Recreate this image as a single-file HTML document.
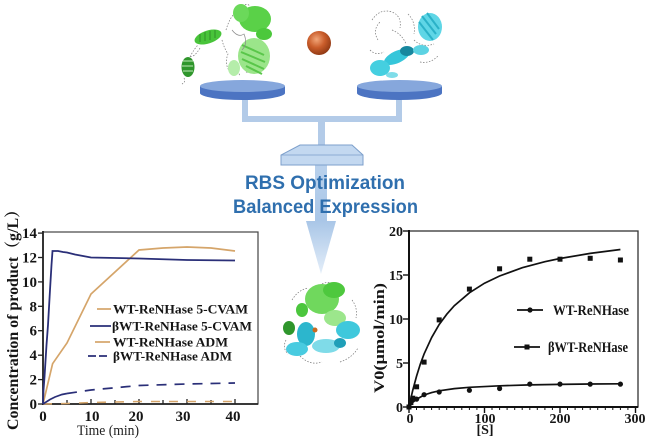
<!DOCTYPE html>
<html><head><meta charset="utf-8"><style>
html,body{margin:0;padding:0;background:#fff;}
svg{display:block}
.t{font-family:"Liberation Serif","Noto Serif CJK SC",serif;font-weight:bold;fill:#151515}
</style></head><body>
<svg width="648" height="447" viewBox="0 0 648 447" xmlns="http://www.w3.org/2000/svg">
<defs>
<linearGradient id="arr" x1="0" y1="0" x2="0" y2="1">
<stop offset="0" stop-color="#a9c6e7"/><stop offset="1" stop-color="#e4eef9"/>
</linearGradient>
<linearGradient id="shaft" x1="0" y1="0" x2="0" y2="1">
<stop offset="0" stop-color="#b9d1ec"/><stop offset="1" stop-color="#a9c6e7"/>
</linearGradient>
<radialGradient id="ball" cx="0.4" cy="0.35" r="0.7">
<stop offset="0" stop-color="#f2a679"/><stop offset="0.5" stop-color="#c95c2a"/><stop offset="1" stop-color="#8a3612"/>
</radialGradient>
</defs>
<rect width="648" height="447" fill="#fff"/>

<!-- balance -->
<rect x="242" y="97" width="6" height="23" fill="#b3cbe8"/>
<rect x="396" y="97" width="6" height="23" fill="#b3cbe8"/>
<rect x="242" y="116" width="160" height="6" fill="#b3cbe8"/>
<rect x="318" y="121" width="7" height="25" fill="#b3cbe8"/>
<rect x="315" y="164" width="12" height="58" fill="url(#shaft)"/>
<polygon points="306,221 336,221 321,274" fill="url(#arr)"/>
<polygon points="300,145 352,145 363,155 363,165 281,165 281,155" fill="#c3d8f0" stroke="#7c9fcb" stroke-width="1"/>
<line x1="281" y1="155" x2="363" y2="155" stroke="#7c9fcb" stroke-width="0.8"/>

<!-- discs -->
<ellipse cx="242.5" cy="93" rx="42.5" ry="7" fill="#4c74c2"/>
<rect x="200" y="86" width="85" height="7" fill="#4c74c2"/>
<ellipse cx="242.5" cy="86" rx="42.5" ry="6" fill="#86a7dc"/>
<ellipse cx="399.5" cy="93" rx="42.5" ry="7" fill="#4c74c2"/>
<rect x="357" y="86" width="85" height="7" fill="#4c74c2"/>
<ellipse cx="399.5" cy="86" rx="42.5" ry="6" fill="#86a7dc"/>

<!-- ball -->
<circle cx="319" cy="43" r="12" fill="url(#ball)"/>

<!-- green protein left -->
<g>
<path d="M190,57 q4,-8 8,-12 M222,40 q2,8 6,14 q-4,10 2,18 M226,30 q4,-14 12,-20 M240,8 q6,-6 10,-2 M230,62 q6,4 10,14 M246,72 q8,2 14,-4 M200,48 q-6,10 -10,8 M184,78 q2,4 -2,6" stroke="#777" stroke-width="0.7" stroke-dasharray="1.5,1.5" fill="none"/>
<ellipse cx="188" cy="67" rx="6.5" ry="10" fill="#2f962c"/>
<path d="M183,61 h10 M182,66 h11 M183,71 h10" stroke="#bfe8b8" stroke-width="1"/>
<ellipse cx="208" cy="37" rx="14" ry="6.5" transform="rotate(-18 208 37)" fill="#48c43a"/>
<path d="M200,34 v8 M205,32 v9 M210,31 v9 M215,30 v8" stroke="#2f8f28" stroke-width="1"/>
<ellipse cx="255" cy="19" rx="16" ry="13" fill="#5ad148"/>
<ellipse cx="241" cy="13" rx="8" ry="9" fill="#6bd95a"/>
<ellipse cx="264" cy="34" rx="8" ry="6" fill="#4cc83c"/>
<ellipse cx="254" cy="56" rx="16" ry="18" fill="#9be58a"/>
<path d="M242,45 l22,10 M241,52 l24,10 M242,59 l22,10 M246,66 l16,8" stroke="#5ac64a" stroke-width="2"/>
<ellipse cx="234" cy="68" rx="6" ry="8" fill="#b5edaa"/>
<path d="M232,30 q6,8 12,4 q4,10 -2,16" stroke="#888" stroke-width="0.7" fill="none"/>
</g>

<!-- cyan protein right -->
<g>
<path d="M372,20 q8,-12 20,-8 q10,4 8,16 M378,40 q-6,-10 2,-18 M392,30 q10,4 14,14 M408,14 q8,8 6,20 M414,40 q8,8 20,4 M370,50 q6,6 14,2 M420,62 q10,2 18,-6" stroke="#777" stroke-width="0.7" stroke-dasharray="1.5,1.5" fill="none"/>
<ellipse cx="430" cy="27" rx="12" ry="14" fill="#5fd6e6"/>
<path d="M422,16 l14,18 M427,13 l12,16 M419,22 l14,18" stroke="#2bb2c8" stroke-width="2"/>
<ellipse cx="397" cy="57" rx="14" ry="6" transform="rotate(-25 397 57)" fill="#35c6da"/>
<ellipse cx="407" cy="51" rx="7" ry="5" fill="#17879e"/>
<ellipse cx="421" cy="50" rx="8" ry="5" fill="#5cd3e3"/>
<ellipse cx="380" cy="68" rx="10" ry="8" fill="#45cfe0"/>
<ellipse cx="392" cy="75" rx="6" ry="3" fill="#7fdde9"/>
</g>

<!-- bottom combined protein -->
<g>
<path d="M292,300 q6,-10 16,-12 M300,356 q10,10 22,6 M340,362 q12,-4 18,-14 M352,300 q6,8 4,18 M286,340 q-4,8 2,14 M322,284 q8,-4 14,2" stroke="#777" stroke-width="0.7" stroke-dasharray="1.5,1.5" fill="none"/>
<ellipse cx="322" cy="299" rx="17" ry="15" fill="#70d85d"/>
<ellipse cx="334" cy="290" rx="11" ry="8" fill="#4ec83e"/>
<ellipse cx="335" cy="318" rx="11" ry="8" fill="#9ce68c"/>
<ellipse cx="302" cy="310" rx="6" ry="7" fill="#4bc63d"/>
<ellipse cx="289" cy="328" rx="6" ry="7" fill="#2f962c"/>
<ellipse cx="306" cy="334" rx="9" ry="12" fill="#2cb6cd"/>
<ellipse cx="348" cy="330" rx="12" ry="9" fill="#3fc8dc"/>
<ellipse cx="297" cy="349" rx="11" ry="7" fill="#48cbe0"/>
<ellipse cx="326" cy="346" rx="14" ry="7" fill="#7fdbe8"/>
<ellipse cx="340" cy="343" rx="6" ry="5" fill="#1f9fb8"/>
<circle cx="315" cy="330" r="2.5" fill="#c96a20"/>
</g>

<!-- center text -->
<text x="325" y="189" text-anchor="middle" font-family="Liberation Sans, sans-serif" font-weight="bold" font-size="19" fill="#2f6fae" textLength="160" lengthAdjust="spacingAndGlyphs">RBS Optimization</text>
<text x="325.5" y="213" text-anchor="middle" font-family="Liberation Sans, sans-serif" font-weight="bold" font-size="19" fill="#2f6fae" textLength="185" lengthAdjust="spacingAndGlyphs">Balanced Expression</text>

<!-- LEFT CHART -->
<rect x="43" y="232" width="215" height="172" fill="none" stroke="#444" stroke-width="1.2"/>
<line x1="43" y1="231" x2="43" y2="405" stroke="#222" stroke-width="1.8"/>
<line x1="42" y1="404" x2="258" y2="404" stroke="#222" stroke-width="1.8"/>
<g stroke="#222" stroke-width="1.3">
<line x1="38" y1="404" x2="43" y2="404"/><line x1="38" y1="379.6" x2="43" y2="379.6"/>
<line x1="38" y1="355.2" x2="43" y2="355.2"/><line x1="38" y1="330.7" x2="43" y2="330.7"/>
<line x1="38" y1="306.3" x2="43" y2="306.3"/><line x1="38" y1="281.9" x2="43" y2="281.9"/>
<line x1="38" y1="257.5" x2="43" y2="257.5"/><line x1="38" y1="233.1" x2="43" y2="233.1"/>
<line x1="67" y1="400" x2="67" y2="404"/><line x1="91" y1="399" x2="91" y2="404"/>
<line x1="115" y1="400" x2="115" y2="404"/><line x1="139" y1="399" x2="139" y2="404"/>
<line x1="163" y1="400" x2="163" y2="404"/><line x1="187" y1="399" x2="187" y2="404"/>
<line x1="211" y1="400" x2="211" y2="404"/><line x1="235" y1="399" x2="235" y2="404"/>
</g>
<g class="t" font-size="15" text-anchor="end">
<text x="37" y="409">0</text><text x="37" y="384.6">2</text><text x="37" y="360.2">4</text>
<text x="37" y="335.7">6</text><text x="37" y="311.3">8</text><text x="37" y="286.9">10</text>
<text x="37" y="262.5">12</text><text x="37" y="238.1">14</text>
</g>
<g class="t" font-size="15" text-anchor="middle">
<text x="43" y="421">0</text><text x="92" y="421">10</text><text x="136" y="421">20</text>
<text x="183" y="421">30</text><text x="233" y="421">40</text>
</g>
<text x="108" y="435" text-anchor="middle" font-family="Liberation Serif, serif" font-size="15" fill="#222" textLength="62" lengthAdjust="spacingAndGlyphs">Time (min)</text>
<text class="t" transform="translate(18,316) rotate(-90)" text-anchor="middle" font-size="16" textLength="228" lengthAdjust="spacingAndGlyphs">Concentration of product（g/L）</text>

<polyline points="43,404 52.6,363.7 67,343 91,294 139,250 163,248 187,247 211,248 235,251" fill="none" stroke="#d5a56a" stroke-width="1.7"/>
<polyline points="43,404 43.5,390 44.5,377 46.5,345 48,325 50,290 51.5,265 52.5,251 58,251 63,252 67,252.5 75,254.5 91,257.5 139,258.5 187,260 235,260.5" fill="none" stroke="#2a2f78" stroke-width="1.8"/>
<polyline points="43,404 67,403.5 91,402.5 139,401.5 187,401.5 235,401.5" fill="none" stroke="#d5a56a" stroke-width="1.6" stroke-dasharray="9,9"/>
<polyline points="43,404 50,399.5 55,397 62,394.5 67,393.5" fill="none" stroke="#2a2f78" stroke-width="1.7"/>
<polyline points="67,393.5 91,390 139,385.5 187,384 235,383" fill="none" stroke="#2a2f78" stroke-width="1.7" stroke-dasharray="10,8"/>

<line x1="97" y1="309" x2="111" y2="309" stroke="#d5a56a" stroke-width="1.7"/>
<line x1="90" y1="326" x2="111" y2="326" stroke="#2a2f78" stroke-width="1.7"/>
<line x1="95" y1="342" x2="110" y2="342" stroke="#d5a56a" stroke-width="1.7"/>
<line x1="88" y1="356" x2="110" y2="356" stroke="#2a2f78" stroke-width="1.7" stroke-dasharray="8,3"/>
<g class="t" font-size="13">
<text x="113" y="313.5" textLength="135" lengthAdjust="spacingAndGlyphs">WT-ReNHase 5-CVAM</text>
<text x="112" y="330.5" textLength="140" lengthAdjust="spacingAndGlyphs">βWT-ReNHase 5-CVAM</text>
<text x="113" y="346.5" textLength="115" lengthAdjust="spacingAndGlyphs">WT-ReNHase ADM</text>
<text x="113" y="360.5" textLength="119" lengthAdjust="spacingAndGlyphs">βWT-ReNHase ADM</text>
</g>

<!-- RIGHT CHART -->
<rect x="409" y="231" width="229" height="176" fill="none" stroke="#333" stroke-width="1.3"/>
<line x1="409" y1="230" x2="409" y2="408" stroke="#111" stroke-width="2"/>
<line x1="408" y1="407" x2="638" y2="407" stroke="#111" stroke-width="2"/>
<g stroke="#111" stroke-width="1.4">
<line x1="403" y1="407" x2="409" y2="407"/><line x1="403" y1="363" x2="409" y2="363"/>
<line x1="403" y1="319" x2="409" y2="319"/><line x1="403" y1="275" x2="409" y2="275"/>
<line x1="403" y1="231" x2="409" y2="231"/>
<line x1="409" y1="407" x2="409" y2="413"/><line x1="484.5" y1="407" x2="484.5" y2="413"/>
<line x1="560" y1="407" x2="560" y2="413"/><line x1="635.5" y1="407" x2="635.5" y2="413"/>
</g>
<g stroke="#111" stroke-width="1">
<line x1="416.5" y1="407" x2="416.5" y2="410"/><line x1="424.1" y1="407" x2="424.1" y2="410"/>
<line x1="431.6" y1="407" x2="431.6" y2="410"/><line x1="439.2" y1="407" x2="439.2" y2="410"/>
<line x1="446.7" y1="407" x2="446.7" y2="410"/><line x1="454.3" y1="407" x2="454.3" y2="410"/>
<line x1="461.8" y1="407" x2="461.8" y2="410"/><line x1="469.4" y1="407" x2="469.4" y2="410"/>
<line x1="476.9" y1="407" x2="476.9" y2="410"/>
<line x1="492" y1="407" x2="492" y2="410"/><line x1="499.6" y1="407" x2="499.6" y2="410"/>
<line x1="507.1" y1="407" x2="507.1" y2="410"/><line x1="514.7" y1="407" x2="514.7" y2="410"/>
<line x1="522.2" y1="407" x2="522.2" y2="410"/><line x1="529.8" y1="407" x2="529.8" y2="410"/>
<line x1="537.3" y1="407" x2="537.3" y2="410"/><line x1="544.9" y1="407" x2="544.9" y2="410"/>
<line x1="552.4" y1="407" x2="552.4" y2="410"/>
<line x1="567.5" y1="407" x2="567.5" y2="410"/><line x1="575.1" y1="407" x2="575.1" y2="410"/>
<line x1="582.6" y1="407" x2="582.6" y2="410"/><line x1="590.2" y1="407" x2="590.2" y2="410"/>
<line x1="597.7" y1="407" x2="597.7" y2="410"/><line x1="605.3" y1="407" x2="605.3" y2="410"/>
<line x1="612.8" y1="407" x2="612.8" y2="410"/><line x1="620.4" y1="407" x2="620.4" y2="410"/>
<line x1="627.9" y1="407" x2="627.9" y2="410"/>
</g>
<g class="t" font-size="14" text-anchor="end">
<text x="403" y="412">0</text><text x="403" y="368">5</text><text x="403" y="324">10</text>
<text x="403" y="280">15</text><text x="403" y="236">20</text>
</g>
<g class="t" font-size="14" text-anchor="middle">
<text x="410" y="423">0</text><text x="485" y="423">100</text><text x="560" y="423">200</text><text x="635" y="423">300</text>
</g>
<text class="t" x="485" y="434" text-anchor="middle" font-size="14">[S]</text>
<text class="t" transform="translate(384,338) rotate(-90)" text-anchor="middle" font-size="15" textLength="110" lengthAdjust="spacingAndGlyphs">V0(μmol/min)</text>

<path d="M409,407 L410.5,399.9 L412.8,390.1 L416.6,376 L420.3,364.1 L424.1,353.9 L431.7,337.4 L439.2,324.5 L446.8,314.2 L454.3,305.7 L469.4,292.8 L484.5,283.2 L499.6,276 L522.3,267.7 L544.9,261.7 L560,258.5 L590.2,253.4 L620.4,249.5" fill="none" stroke="#111" stroke-width="1.7"/>
<path d="M409,407 L410.5,404.9 L412.8,402.3 L416.6,399.2 L424.1,395 L431.7,392.6 L439.2,390.8 L454.3,388.6 L469.4,387.3 L499.6,385.8 L529.8,384.9 L560,384.4 L590.2,384 L620.4,383.8" fill="none" stroke="#111" stroke-width="1.7"/>
<g fill="#111">
<rect x="406.5" y="404.5" width="5" height="5"/><rect x="408.4" y="400.1" width="5" height="5"/>
<rect x="410.3" y="395.7" width="5" height="5"/><rect x="414.1" y="384.3" width="5" height="5"/>
<rect x="421.6" y="359.6" width="5" height="5"/><rect x="436.7" y="317.4" width="5" height="5"/>
<rect x="466.9" y="286.6" width="5" height="5"/><rect x="497.1" y="266.3" width="5" height="5"/>
<rect x="527.3" y="256.7" width="5" height="5"/><rect x="557.5" y="256.7" width="5" height="5"/>
<rect x="587.7" y="255.8" width="5" height="5"/><rect x="617.9" y="257.5" width="5" height="5"/>
<circle cx="410.9" cy="401.7" r="2.6"/><circle cx="412.8" cy="399.1" r="2.6"/>
<circle cx="416.6" cy="399.1" r="2.6"/><circle cx="424.1" cy="394.7" r="2.6"/>
<circle cx="439.2" cy="392" r="2.6"/><circle cx="469.4" cy="390.3" r="2.6"/>
<circle cx="499.6" cy="388.5" r="2.6"/><circle cx="529.8" cy="384.1" r="2.6"/>
<circle cx="560" cy="384.1" r="2.6"/><circle cx="590.2" cy="384.1" r="2.6"/>
<circle cx="620.4" cy="384.1" r="2.6"/>
</g>
<line x1="517" y1="310" x2="543" y2="310" stroke="#111" stroke-width="1.7"/>
<circle cx="530" cy="310" r="2.6" fill="#111"/>
<line x1="514" y1="347" x2="540" y2="347" stroke="#111" stroke-width="1.7"/>
<rect x="524.5" y="344.5" width="5" height="5" fill="#111"/>
<g class="t" font-size="15">
<text x="553" y="315" textLength="76" lengthAdjust="spacingAndGlyphs">WT-ReNHase</text>
<text x="548" y="352" textLength="80" lengthAdjust="spacingAndGlyphs">βWT-ReNHase</text>
</g>
</svg>
</body></html>
